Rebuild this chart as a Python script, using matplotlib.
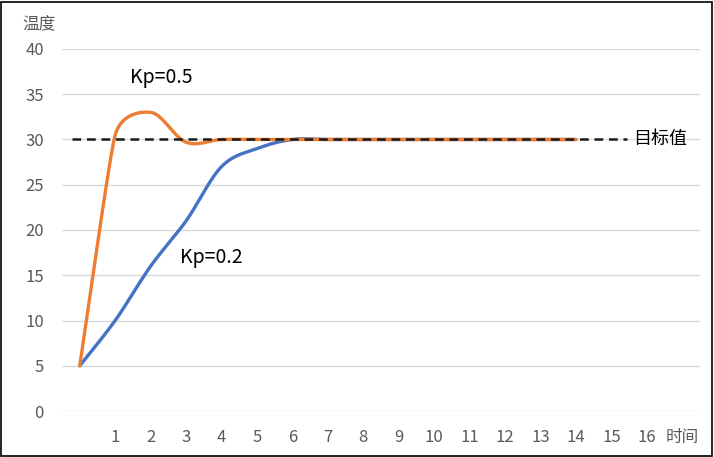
import numpy as np
import matplotlib
matplotlib.use("Agg")
import matplotlib.pyplot as plt
from matplotlib.patches import Rectangle

plt.rcParams['font.family'] = ['Noto Sans CJK SC', 'DejaVu Sans']

# Data
time_steps = list(range(0, 15))
kp02 = [5, 10, 16, 21, 27, 29, 30, 30, 30, 30, 30, 30, 30, 30, 30]
kp05 = [5, 30.5, 33, 29.7, 30, 30, 30, 30, 30, 30, 30, 30, 30, 30, 30]
x_labels = [str(i) for i in range(1, 17)] + ['时间']
y_ticks = [0, 5, 10, 15, 20, 25, 30, 35, 40]
target = 30
target_span = (-0.23, 15.45)
labels = {'Kp=0.5': (1.42, 36.9), 'Kp=0.2': (2.83, 17.0)}

# aspect: pixels per x-unit and per y-unit (for smoothing in screen space)
SX, SY = 35.44, 9.05


def smooth(x, y, n=40, f=0.5):
    P = np.column_stack([np.asarray(x, float) * SX, np.asarray(y, float) * SY])
    m = len(P)
    T = np.zeros_like(P)
    for i in range(m):
        a = P[max(i - 1, 0)]
        b = P[min(i + 1, m - 1)]
        t = (b - a) / 6.0
        segs = []
        if i > 0:
            segs.append(np.linalg.norm(P[i] - P[i - 1]))
        if i < m - 1:
            segs.append(np.linalg.norm(P[i + 1] - P[i]))
        lim = f * min(segs)
        L = np.linalg.norm(t)
        if L > lim and L > 0:
            t = t * lim / L
        T[i] = t
    tt = np.linspace(0, 1, n, endpoint=False)[:, None]
    pts = []
    for i in range(m - 1):
        p1, p2 = P[i], P[i + 1]
        c1, c2 = p1 + T[i], p2 - T[i + 1]
        b = (1 - tt) ** 3 * p1 + 3 * (1 - tt) ** 2 * tt * c1 + 3 * (1 - tt) * tt ** 2 * c2 + tt ** 3 * p2
        pts.append(b)
    pts.append(P[-1:])
    pts = np.vstack(pts)
    return pts[:, 0] / SX, pts[:, 1] / SY


fig = plt.figure(figsize=(7.14, 4.57), dpi=100)
ax = fig.add_axes([62 / 714, 1 - 411 / 457, (700 - 62) / 714, (411 - 49) / 457])

ax.set_xlim(-0.5, 17.5)
ax.set_ylim(0, 40)
ax.set_yticks(y_ticks)
ax.set_yticklabels([str(v) for v in y_ticks])
ax.set_xticks(range(1, 18))
ax.set_xticklabels(x_labels)
ax.tick_params(axis='both', length=0, colors='#595959', labelsize=12)
ax.tick_params(axis='y', pad=13)
ax.tick_params(axis='x', pad=13)
for s in ax.spines.values():
    s.set_visible(False)
ax.grid(axis='y', color='#D9D9D9', lw=1)
ax.set_axisbelow(True)

bx, by = smooth(time_steps, kp02)
ax.plot(bx, by, color='#4472C4', lw=2.4, solid_capstyle='round', zorder=3)
ox, oy = smooth(time_steps, kp05)
ax.plot(ox, oy, color='#ED7D31', lw=2.4, solid_capstyle='round', zorder=4)

ax.hlines(target, target_span[0], target_span[1], colors='#1a1a1a', lw=1.8,
          linestyles=(0, (3.5, 2.3)), zorder=5)

for txt, (lx, ly) in labels.items():
    ax.text(lx, ly, txt, fontsize=14, color='#000000', va='center', ha='left')

fig.text(633 / 714, 1 - 139 / 457, '目标值', fontsize=13, color='#000000', va='center', ha='left')
fig.text(22 / 714, 1 - 25 / 457, '温度', fontsize=12, color='#595959', va='center', ha='left')

fig.patches.append(Rectangle((0.5 / 714, 1.5 / 457), 711 / 714, 454 / 457, transform=fig.transFigure,
                             fill=False, edgecolor='#000000', lw=1.2))

fig.savefig('out.png', dpi=100)
